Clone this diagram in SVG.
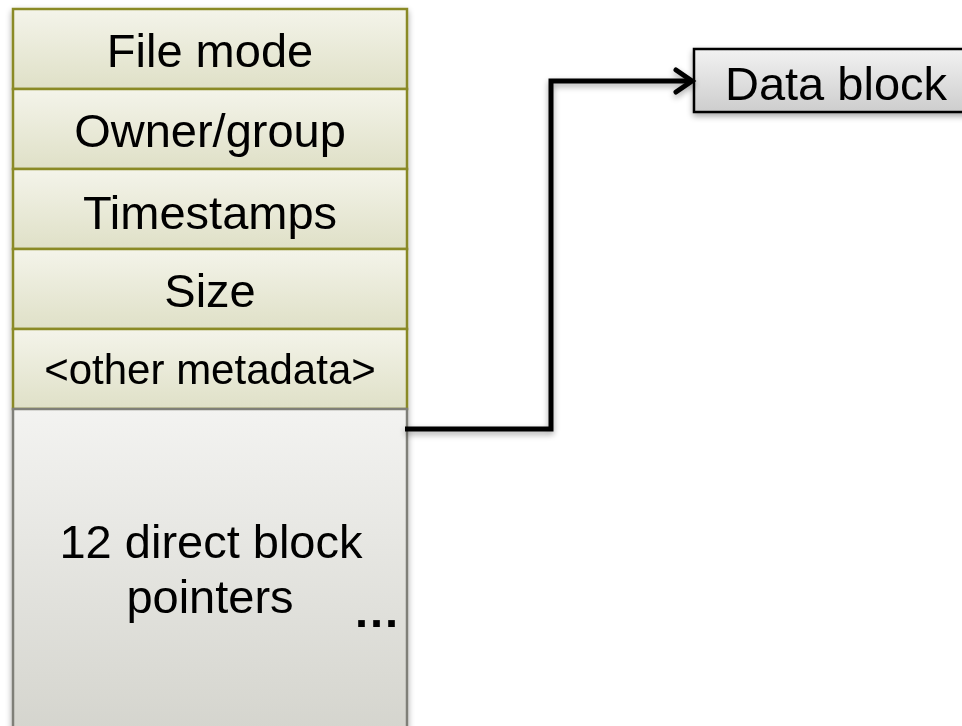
<svg xmlns="http://www.w3.org/2000/svg" width="962" height="726" viewBox="0 0 962 726">
  <style>
    text { font-family: "Liberation Sans", Arial, sans-serif; fill: #000; text-anchor: middle; }
    .big { font-size: 47px; }
    .small { font-size: 42px; }
    .field { fill: url(#olive); stroke: #8a8a26; stroke-width: 2.5; }
    .conn { fill: none; stroke: #000; stroke-width: 5; stroke-linejoin: miter; }
  </style>
  <defs>
    <linearGradient id="olive" x1="0" y1="0" x2="0" y2="1">
      <stop offset="0" stop-color="#f4f4ea"/>
      <stop offset="1" stop-color="#dfe0c7"/>
    </linearGradient>
    <linearGradient id="greyFill" x1="0" y1="0" x2="0" y2="1">
      <stop offset="0" stop-color="#f3f3f1"/>
      <stop offset="1" stop-color="#d4d4cd"/>
    </linearGradient>
    <linearGradient id="blockFill" x1="0" y1="0" x2="0" y2="1">
      <stop offset="0" stop-color="#f2f2f2"/>
      <stop offset="1" stop-color="#cdcdcd"/>
    </linearGradient>
    <filter id="shadow" x="-10%" y="-10%" width="120%" height="130%">
      <feGaussianBlur in="SourceAlpha" stdDeviation="3"/>
      <feOffset dx="0" dy="3" result="b"/>
      <feComponentTransfer><feFuncA type="linear" slope="0.35"/></feComponentTransfer>
      <feMerge><feMergeNode/><feMergeNode in="SourceGraphic"/></feMerge>
    </filter>
  </defs>

  <rect width="962" height="726" fill="#fff"/>

  <!-- inode column -->
  <g id="inode" filter="url(#shadow)">
    <g id="file-mode">
      <rect class="field" x="13" y="9" width="394" height="80"/>
      <text class="big" x="210" y="67">File mode</text>
    </g>
    <g id="owner-group">
      <rect class="field" x="13" y="89" width="394" height="80"/>
      <text class="big" x="210" y="147">Owner/group</text>
    </g>
    <g id="timestamps">
      <rect class="field" x="13" y="169" width="394" height="80"/>
      <text class="big" x="210" y="229">Timestamps</text>
    </g>
    <g id="size">
      <rect class="field" x="13" y="249" width="394" height="80"/>
      <text class="big" x="210" y="307">Size</text>
    </g>
    <g id="other-metadata">
      <rect class="field" x="13" y="329" width="394" height="80"/>
      <text class="small" x="210" y="384">&lt;other metadata&gt;</text>
    </g>
    <g id="direct-pointers">
      <rect x="13" y="409" width="394" height="330" fill="url(#greyFill)" stroke="#7f7f78" stroke-width="2.5"/>
      <text class="big" x="211" y="558">12 direct block</text>
      <text class="big" x="210" y="613">pointers</text>
      <text class="big" x="355" y="627" style="text-anchor:start;font-weight:bold;letter-spacing:2px">...</text>
    </g>
  </g>

  <!-- data block -->
  <g id="data-block" filter="url(#shadow)">
    <rect x="694" y="49" width="290" height="63" fill="url(#blockFill)" stroke="#000" stroke-width="2.5"/>
    <text class="big" x="836" y="100">Data block</text>
  </g>

  <!-- connectors -->
  <g id="connectors" filter="url(#shadow)">
    <polyline class="conn" points="405,429 551,429 551,81 691,81"/>
    <polyline class="conn" points="676,70 692,81 676,92" stroke-linecap="round"/>
  </g>
</svg>
